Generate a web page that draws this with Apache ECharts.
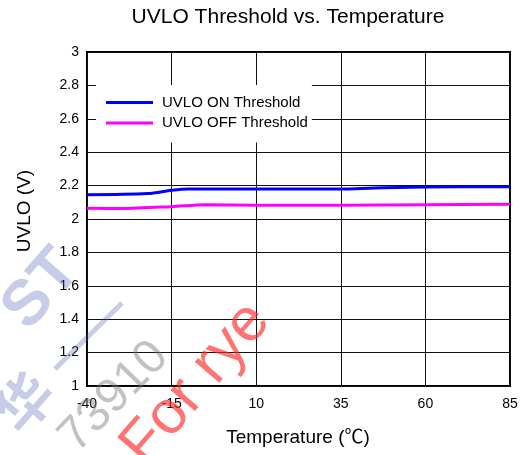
<!DOCTYPE html>
<html>
<head>
<meta charset="utf-8">
<script src="https://cdn.jsdelivr.net/npm/echarts@6/dist/echarts.min.js"></script>
<style>
  html, body { margin: 0; padding: 0; background: #fff; }
  #chart { width: 527px; height: 455px; }
</style>
</head>
<body>
<div id="chart"></div>
<script>
// Measured UVLO thresholds over temperature
const tempOn  = [-40, -22, -15, -10, 10, 35, 45, 60, 85];
const uvloOn  = [2.145, 2.152, 2.172, 2.180, 2.180, 2.179, 2.186, 2.192, 2.193];
const tempOff = [-40, -30, -15, -5, 10, 35, 60, 85];
const uvloOff = [2.065, 2.063, 2.074, 2.086, 2.083, 2.083, 2.086, 2.088];

const xTicks = [-40, -15, 10, 35, 60, 85];
const yTicks = [1, 1.2, 1.4, 1.6, 1.8, 2, 2.2, 2.4, 2.6, 2.8, 3];

const seriesNames = ['UVLO ON Threshold', 'UVLO OFF Threshold'];

// The x axis runs on an offset scale starting at 0 so ticks land on -40, -15, ...
const X0 = xTicks[0];
const pairs = (xs, ys) => xs.map((x, i) => [x - X0, ys[i]]);

const FONT = '"Liberation Sans", Arial, "Noto Sans CJK SC", sans-serif';
const STAMP_BLUE = 'rgba(70,90,180,0.3)';

const chart = echarts.init(document.getElementById('chart'), null, { renderer: 'canvas' });

chart.setOption({
  animation: false,
  backgroundColor: '#fff',
  title: {
    text: 'UVLO Threshold vs. Temperature',
    left: 288,
    top: 7,
    textAlign: 'center',
    padding: 0,
    textStyle: { fontFamily: FONT, fontSize: 21, fontWeight: 'normal', color: '#000' }
  },
  legend: {
    orient: 'vertical',
    left: 96,
    top: 85,
    padding: [9, 4, 11, 10],
    backgroundColor: '#fff',
    itemWidth: 47,
    itemHeight: 3,
    itemGap: 3.6,
    icon: 'rect',
    textStyle: { fontFamily: FONT, fontSize: 15, color: '#000', lineHeight: 17, padding: [0, 0, 0, 4] },
    data: seriesNames
  },
  grid: {
    left: 87, right: 17, top: 52, bottom: 69,
    show: true, borderColor: '#000', borderWidth: 2, backgroundColor: 'transparent'
  },
  xAxis: {
    type: 'value',
    min: 0,
    max: xTicks[xTicks.length - 1] - X0,
    interval: xTicks[1] - xTicks[0],
    axisLine: { show: false },
    axisTick: { show: false },
    splitLine: { show: true, lineStyle: { color: '#111', width: 1 } },
    axisLabel: {
      margin: 11,
      fontFamily: FONT, fontSize: 14, color: '#000',
      formatter: v => String(Math.round(v + X0))
    }
  },
  yAxis: {
    type: 'value',
    min: yTicks[0],
    max: yTicks[yTicks.length - 1],
    interval: 0.2,
    axisLine: { show: false },
    axisTick: { show: false },
    splitLine: { show: true, lineStyle: { color: '#111', width: 1 } },
    axisLabel: {
      margin: 8,
      fontFamily: FONT, fontSize: 14, color: '#000',
      formatter: v => String(Math.round(v * 10) / 10)
    }
  },
  series: [
    {
      name: seriesNames[0], type: 'line', data: pairs(tempOn, uvloOn),
      smooth: 0.3, showSymbol: false, symbol: 'none',
      lineStyle: { color: '#0000ff', width: 3 }, itemStyle: { color: '#0000ff' }, z: 3
    },
    {
      name: seriesNames[1], type: 'line', data: pairs(tempOff, uvloOff),
      smooth: 0.3, showSymbol: false, symbol: 'none',
      lineStyle: { color: '#ff00ff', width: 3 }, itemStyle: { color: '#ff00ff' }, z: 3
    }
  ],
  graphic: [
    // axis names
    {
      type: 'text', z: 10,
      x: 24.5, y: 211, rotation: Math.PI / 2,
      style: { text: 'UVLO (V)', fontFamily: FONT, fontSize: 19, fill: '#000', align: 'center', verticalAlign: 'middle' }
    },
    {
      type: 'text', z: 10,
      x: 298, y: 438,
      style: { text: 'Temperature (℃)', fontFamily: FONT, fontSize: 19, fill: '#000', align: 'center', verticalAlign: 'middle' }
    },
    // stamps across the lower left
    {
      type: 'line', z: 20, silent: true,
      shape: { x1: 55, y1: 369, x2: 122, y2: 303 },
      style: { stroke: STAMP_BLUE, lineWidth: 5 }
    },
    {
      type: 'text', z: 20, silent: true,
      x: 42, y: 290, rotation: 0.85,
      style: { text: 'ST', fontFamily: FONT, fontSize: 64, fontWeight: 'bold', fill: STAMP_BLUE, align: 'center', verticalAlign: 'middle' }
    },
    {
      type: 'text', z: 20, silent: true,
      x: 24, y: 402, rotation: 0.85,
      style: { text: '华', fontFamily: '"Noto Sans CJK SC", sans-serif', fontSize: 56, fontWeight: 'bold', fill: STAMP_BLUE, align: 'center', verticalAlign: 'middle' }
    },
    {
      type: 'text', z: 20, silent: true,
      x: 114, y: 397, rotation: 0.8,
      style: { text: '73910', fontFamily: FONT, fontSize: 48, fill: 'rgba(120,120,120,0.45)', align: 'center', verticalAlign: 'middle' }
    },
    {
      type: 'text', z: 21, silent: true,
      x: 196, y: 384, rotation: 0.86,
      style: { text: 'For rye', fontFamily: FONT, fontSize: 61, fill: 'rgba(255,40,40,0.65)', align: 'center', verticalAlign: 'middle' }
    }
  ]
});
</script>
</body>
</html>
